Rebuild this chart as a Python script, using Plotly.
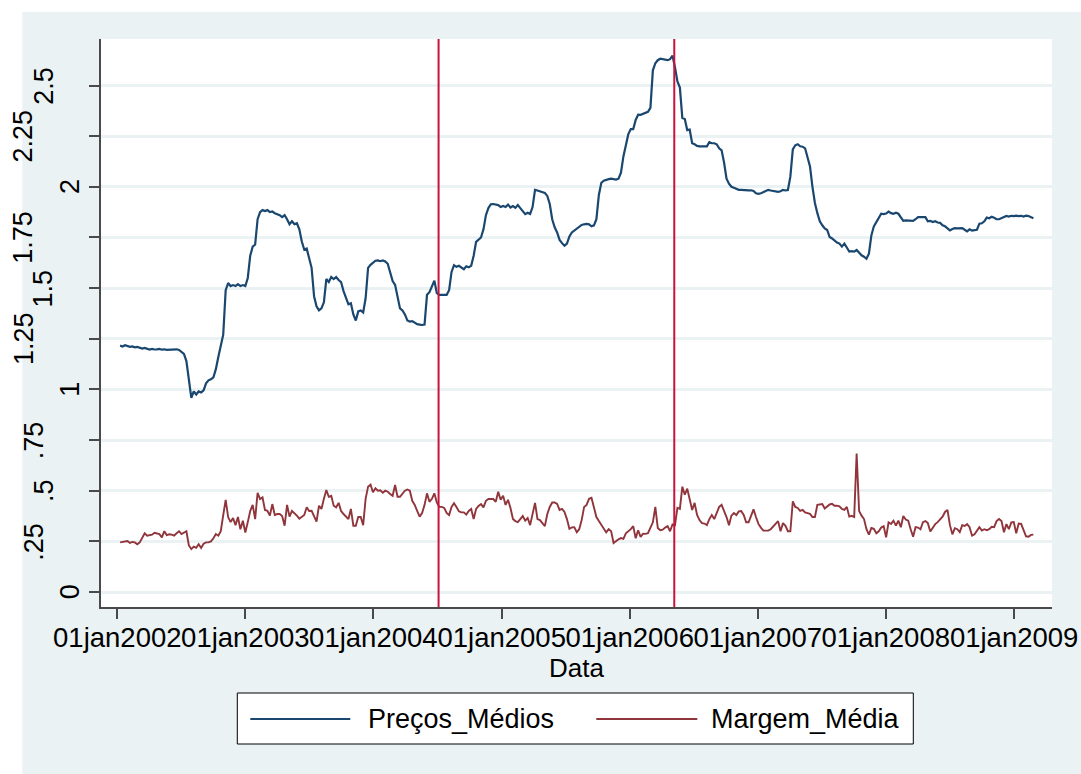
import pandas as pd
import plotly.graph_objects as go

# Weekly averages, starting 9 Jan 2002
precos_medios = [
    1.216, 1.212, 1.218, 1.212, 1.210, 1.212, 1.208, 1.210, 1.205, 1.202,
    1.205, 1.200, 1.197, 1.200, 1.197, 1.198, 1.200, 1.196, 1.198, 1.195,
    1.196, 1.198, 1.197, 1.198, 1.195, 1.185, 1.175, 1.140, 1.060, 0.958,
    0.990, 0.975, 0.990, 0.985, 0.995, 1.030, 1.045, 1.050, 1.060, 1.100,
    1.160, 1.215, 1.270, 1.490, 1.525, 1.510, 1.515, 1.510, 1.520, 1.510,
    1.515, 1.510, 1.550, 1.660, 1.705, 1.715, 1.840, 1.875, 1.885, 1.880,
    1.885, 1.875, 1.878, 1.870, 1.865, 1.860, 1.850, 1.860, 1.840, 1.815,
    1.830, 1.815, 1.820, 1.790, 1.730, 1.690, 1.695, 1.640, 1.600, 1.460,
    1.410, 1.390, 1.400, 1.430, 1.545, 1.530, 1.555, 1.545, 1.555, 1.540,
    1.530, 1.485, 1.450, 1.420, 1.425, 1.370, 1.340, 1.385, 1.390, 1.380,
    1.450, 1.600, 1.615, 1.625, 1.635, 1.637, 1.633, 1.637, 1.632, 1.620,
    1.570, 1.535, 1.516, 1.450, 1.400, 1.390, 1.370, 1.340, 1.335, 1.337,
    1.330, 1.322, 1.320, 1.318, 1.320, 1.467, 1.480, 1.510, 1.537, 1.475,
    1.467, 1.467, 1.467, 1.467, 1.490, 1.580, 1.613, 1.605, 1.610, 1.600,
    1.593, 1.608, 1.603, 1.610, 1.660, 1.728, 1.738, 1.750, 1.790, 1.860,
    1.895, 1.914, 1.915, 1.914, 1.910, 1.900, 1.905, 1.900, 1.912, 1.898,
    1.905, 1.896, 1.910, 1.895, 1.880, 1.865, 1.872, 1.866, 1.900, 1.985,
    1.982, 1.978, 1.975, 1.970, 1.955, 1.915, 1.840, 1.800, 1.775, 1.738,
    1.722, 1.709, 1.720, 1.755, 1.775, 1.785, 1.795, 1.805, 1.812, 1.815,
    1.817, 1.815, 1.805, 1.810, 1.840, 1.960, 2.020, 2.030, 2.035, 2.038,
    2.040, 2.037, 2.036, 2.040, 2.070, 2.150, 2.210, 2.260, 2.285, 2.285,
    2.330, 2.356, 2.355, 2.360, 2.365, 2.370, 2.390, 2.575, 2.610, 2.625,
    2.632, 2.630, 2.625, 2.625, 2.630, 2.647, 2.590, 2.520, 2.490, 2.340,
    2.335, 2.280, 2.283, 2.215, 2.210, 2.202, 2.200, 2.200, 2.198, 2.200,
    2.220, 2.215, 2.215, 2.210, 2.190, 2.180, 2.120, 2.040, 2.015, 2.000,
    1.995, 1.990, 1.985, 1.985, 1.983, 1.984, 1.982, 1.983, 1.980, 1.968,
    1.965, 1.968, 1.975, 1.982, 1.985, 1.982, 1.980, 1.976, 1.975, 1.978,
    1.985, 1.982, 1.984, 2.050, 2.185, 2.205, 2.210, 2.200, 2.198, 2.190,
    2.140, 2.100, 2.000, 1.920, 1.870, 1.830, 1.810, 1.795, 1.787, 1.752,
    1.745, 1.735, 1.725, 1.720, 1.705, 1.720, 1.700, 1.680, 1.682, 1.680,
    1.688, 1.675, 1.662, 1.655, 1.645, 1.670, 1.760, 1.805, 1.825, 1.845,
    1.867, 1.865, 1.868, 1.878, 1.870, 1.867, 1.872, 1.867, 1.850, 1.832,
    1.834, 1.833, 1.834, 1.832, 1.840, 1.850, 1.850, 1.851, 1.850, 1.830,
    1.832, 1.826, 1.830, 1.824, 1.822, 1.810, 1.805, 1.795, 1.785, 1.792,
    1.796, 1.795, 1.797, 1.796, 1.788, 1.780, 1.790, 1.784, 1.786, 1.788,
    1.818, 1.820, 1.830, 1.848, 1.845, 1.852, 1.847, 1.840, 1.840, 1.845,
    1.852, 1.856, 1.853, 1.857, 1.855, 1.858, 1.855, 1.857, 1.853, 1.858,
    1.856, 1.852, 1.845,
]

margem_media = [
    0.245, 0.248, 0.250, 0.252, 0.242, 0.247, 0.245, 0.236, 0.245, 0.270,
    0.290, 0.278, 0.280, 0.283, 0.292, 0.290, 0.286, 0.270, 0.300, 0.281,
    0.285, 0.283, 0.278, 0.290, 0.300, 0.286, 0.293, 0.300, 0.230, 0.212,
    0.224, 0.218, 0.236, 0.217, 0.238, 0.245, 0.245, 0.250, 0.265, 0.286,
    0.278, 0.300, 0.380, 0.455, 0.370, 0.345, 0.365, 0.330, 0.370, 0.310,
    0.352, 0.294, 0.345, 0.400, 0.430, 0.360, 0.490, 0.459, 0.467, 0.405,
    0.401, 0.377, 0.434, 0.380, 0.385, 0.385, 0.375, 0.327, 0.430, 0.372,
    0.400, 0.390, 0.377, 0.362, 0.370, 0.380, 0.418, 0.400, 0.401, 0.370,
    0.347, 0.426, 0.410, 0.460, 0.503, 0.470, 0.475, 0.426, 0.418, 0.440,
    0.400, 0.385, 0.372, 0.360, 0.410, 0.327, 0.327, 0.370, 0.370, 0.330,
    0.460, 0.520, 0.530, 0.492, 0.512, 0.500, 0.502, 0.490, 0.500, 0.495,
    0.484, 0.475, 0.528, 0.470, 0.470, 0.486, 0.500, 0.506, 0.500, 0.450,
    0.430, 0.400, 0.372, 0.390, 0.430, 0.487, 0.445, 0.460, 0.487, 0.442,
    0.420, 0.420, 0.415, 0.390, 0.380, 0.420, 0.438, 0.420, 0.398, 0.393,
    0.393, 0.382, 0.400, 0.410, 0.360, 0.410, 0.425, 0.434, 0.418, 0.450,
    0.459, 0.459, 0.459, 0.445, 0.495, 0.455, 0.475, 0.430, 0.455, 0.415,
    0.360, 0.350, 0.345, 0.360, 0.375, 0.352, 0.365, 0.330, 0.390, 0.440,
    0.360, 0.355, 0.340, 0.325, 0.385, 0.420, 0.442, 0.442, 0.435, 0.405,
    0.410, 0.395, 0.360, 0.312, 0.319, 0.320, 0.295, 0.310, 0.355, 0.420,
    0.430, 0.460, 0.465, 0.415, 0.370, 0.350, 0.330, 0.310, 0.294, 0.310,
    0.300, 0.242, 0.253, 0.260, 0.266, 0.262, 0.290, 0.300, 0.310, 0.325,
    0.265, 0.305, 0.272, 0.288, 0.287, 0.290, 0.320, 0.344, 0.420, 0.316,
    0.305, 0.308, 0.318, 0.325, 0.300, 0.334, 0.330, 0.415, 0.410, 0.520,
    0.480, 0.510, 0.458, 0.405, 0.440, 0.380, 0.355, 0.340, 0.338, 0.330,
    0.360, 0.380, 0.360, 0.390, 0.420, 0.430, 0.402, 0.370, 0.330, 0.377,
    0.390, 0.380, 0.398, 0.400, 0.380, 0.344, 0.344, 0.380, 0.408, 0.370,
    0.336, 0.318, 0.303, 0.303, 0.303, 0.310, 0.325, 0.340, 0.350, 0.300,
    0.340, 0.327, 0.300, 0.300, 0.447, 0.420, 0.415, 0.400, 0.405, 0.393,
    0.390, 0.386, 0.370, 0.370, 0.430, 0.432, 0.434, 0.412, 0.420, 0.432,
    0.435, 0.426, 0.426, 0.423, 0.410, 0.405, 0.420, 0.372, 0.376, 0.370,
    0.684, 0.400, 0.377, 0.360, 0.310, 0.283, 0.316, 0.312, 0.290, 0.300,
    0.318, 0.325, 0.270, 0.344, 0.336, 0.352, 0.328, 0.352, 0.320, 0.375,
    0.358, 0.352, 0.310, 0.273, 0.320, 0.318, 0.310, 0.345, 0.350, 0.340,
    0.299, 0.318, 0.335, 0.345, 0.360, 0.372, 0.395, 0.405, 0.330, 0.285,
    0.315, 0.310, 0.296, 0.330, 0.326, 0.335, 0.320, 0.278, 0.285, 0.305,
    0.320, 0.303, 0.310, 0.305, 0.310, 0.322, 0.320, 0.350, 0.360, 0.350,
    0.295, 0.335, 0.310, 0.344, 0.345, 0.290, 0.338, 0.336, 0.300, 0.275,
    0.273, 0.282, 0.283,
]

datas = pd.date_range("2002-01-09", periods=len(precos_medios), freq="7D")

# Reference dates marked with vertical lines
marcos = ["2004-07-05", "2006-05-08"]

x_ticks = ["2002-01-01", "2003-01-01", "2004-01-01", "2005-01-01",
           "2006-01-01", "2007-01-01", "2008-01-01", "2009-01-01"]
x_labels = ["01jan2002", "01jan2003", "01jan2004", "01jan2005",
            "01jan2006", "01jan2007", "01jan2008", "01jan2009"]
y_ticks = [0, 0.25, 0.5, 0.75, 1, 1.25, 1.5, 1.75, 2, 2.25, 2.5]
y_labels = ["0", ".25", ".5", ".75", "1", "1.25", "1.5", "1.75", "2", "2.25", "2.5"]

# ---- page geometry (pixels) ----
FIG_W, FIG_H = 1081, 774
PL, PR, PT, PB = 100.7, 1051.7, 39, 607
PW, PH = PR - PL, PB - PT

def px_x(px):
    return (px - PL) / PW

def px_y(py):
    return (PB - py) / PH

FONT = "Liberation Sans, Arial, Helvetica, sans-serif"
PANEL = "#EAF2F3"
AXIS = "#4A4A4A"
AZUL = "#1A476F"
VINHO = "#90353B"
VERMELHO = "#C8143C"

fig = go.Figure()
fig.add_trace(go.Scatter(x=datas, y=precos_medios, mode="lines", name="Preços_Médios",
                         line=dict(color=AZUL, width=2.2), showlegend=False))
fig.add_trace(go.Scatter(x=datas, y=margem_media, mode="lines", name="Margem_Média",
                         line=dict(color=VINHO, width=1.9), showlegend=False))

shapes = []
# white strips left/top of the grey panel
shapes.append(dict(type="rect", xref="paper", yref="paper", layer="below",
                   x0=px_x(-5), x1=px_x(22), y0=px_y(FIG_H + 5), y1=px_y(-5),
                   fillcolor="white", line=dict(width=0)))
shapes.append(dict(type="rect", xref="paper", yref="paper", layer="below",
                   x0=px_x(-5), x1=px_x(FIG_W + 5), y0=px_y(12), y1=px_y(-5),
                   fillcolor="white", line=dict(width=0)))
for d in marcos:
    shapes.append(dict(type="line", xref="x", yref="paper", x0=d, x1=d, y0=0, y1=1,
                       line=dict(color=VERMELHO, width=2)))

# legend box
shapes.append(dict(type="rect", xref="paper", yref="paper",
                   x0=px_x(237), x1=px_x(913), y0=px_y(744), y1=px_y(693),
                   fillcolor="white", line=dict(color="black", width=1)))
shapes.append(dict(type="line", xref="paper", yref="paper",
                   x0=px_x(250), x1=px_x(350), y0=px_y(719), y1=px_y(719),
                   line=dict(color=AZUL, width=2.2)))
shapes.append(dict(type="line", xref="paper", yref="paper",
                   x0=px_x(596), x1=px_x(697), y0=px_y(719), y1=px_y(719),
                   line=dict(color=VINHO, width=2.2)))

annotations = []
# rotated y tick labels; column centre depends on label width
col_centre = {1: 70, 2: 43, 3: 43, 4: 23}
for v, lab in zip(y_ticks, y_labels):
    cx = col_centre[len(lab)]
    if lab in (".25", ".75"):
        cx = 34
    annotations.append(dict(x=px_x(cx), y=v, xref="paper", yref="y", text=lab,
                            showarrow=False, textangle=-90, xanchor="center",
                            yanchor="middle", font=dict(family=FONT, size=27, color="black")))
annotations.append(dict(x=px_x(576), y=px_y(668), xref="paper", yref="paper", text="Data",
                        showarrow=False, xanchor="center", yanchor="middle",
                        font=dict(family=FONT, size=26, color="black")))
annotations.append(dict(x=px_x(366), y=px_y(719), xref="paper", yref="paper",
                        text="Preços_Médios", showarrow=False, xanchor="left",
                        yanchor="middle", font=dict(family=FONT, size=27, color="black")))
annotations.append(dict(x=px_x(709), y=px_y(719), xref="paper", yref="paper",
                        text="Margem_Média", showarrow=False, xanchor="left",
                        yanchor="middle", font=dict(family=FONT, size=27, color="black")))

fig.update_layout(
    width=FIG_W, height=FIG_H,
    margin=dict(l=PL, r=FIG_W - PR, t=PT, b=FIG_H - PB, pad=0, autoexpand=False),
    paper_bgcolor=PANEL, plot_bgcolor="white",
    shapes=shapes, annotations=annotations,
    showlegend=False,
    font=dict(family=FONT, color="black"),
)
fig.update_xaxes(
    type="date", range=["2001-11-15 12:00", "2009-04-19"],
    tickvals=x_ticks, ticktext=x_labels, tickangle=0, automargin=False,
    tickfont=dict(family=FONT, size=27.5, color="black"),
    ticklabelstandoff=-5,
    ticks="outside", ticklen=10, tickwidth=1.5, tickcolor=AXIS,
    showgrid=False, zeroline=False,
    showline=True, linecolor=AXIS, linewidth=1.5,
)
fig.update_yaxes(
    range=[-0.074, 2.7296], automargin=False,
    tickvals=y_ticks, showticklabels=False,
    ticks="outside", ticklen=10, tickwidth=1.5, tickcolor=AXIS,
    showgrid=True, gridcolor=PANEL, gridwidth=2.5,
    zeroline=False,
    showline=True, linecolor=AXIS, linewidth=1.5,
)

fig.write_html("out.html")
